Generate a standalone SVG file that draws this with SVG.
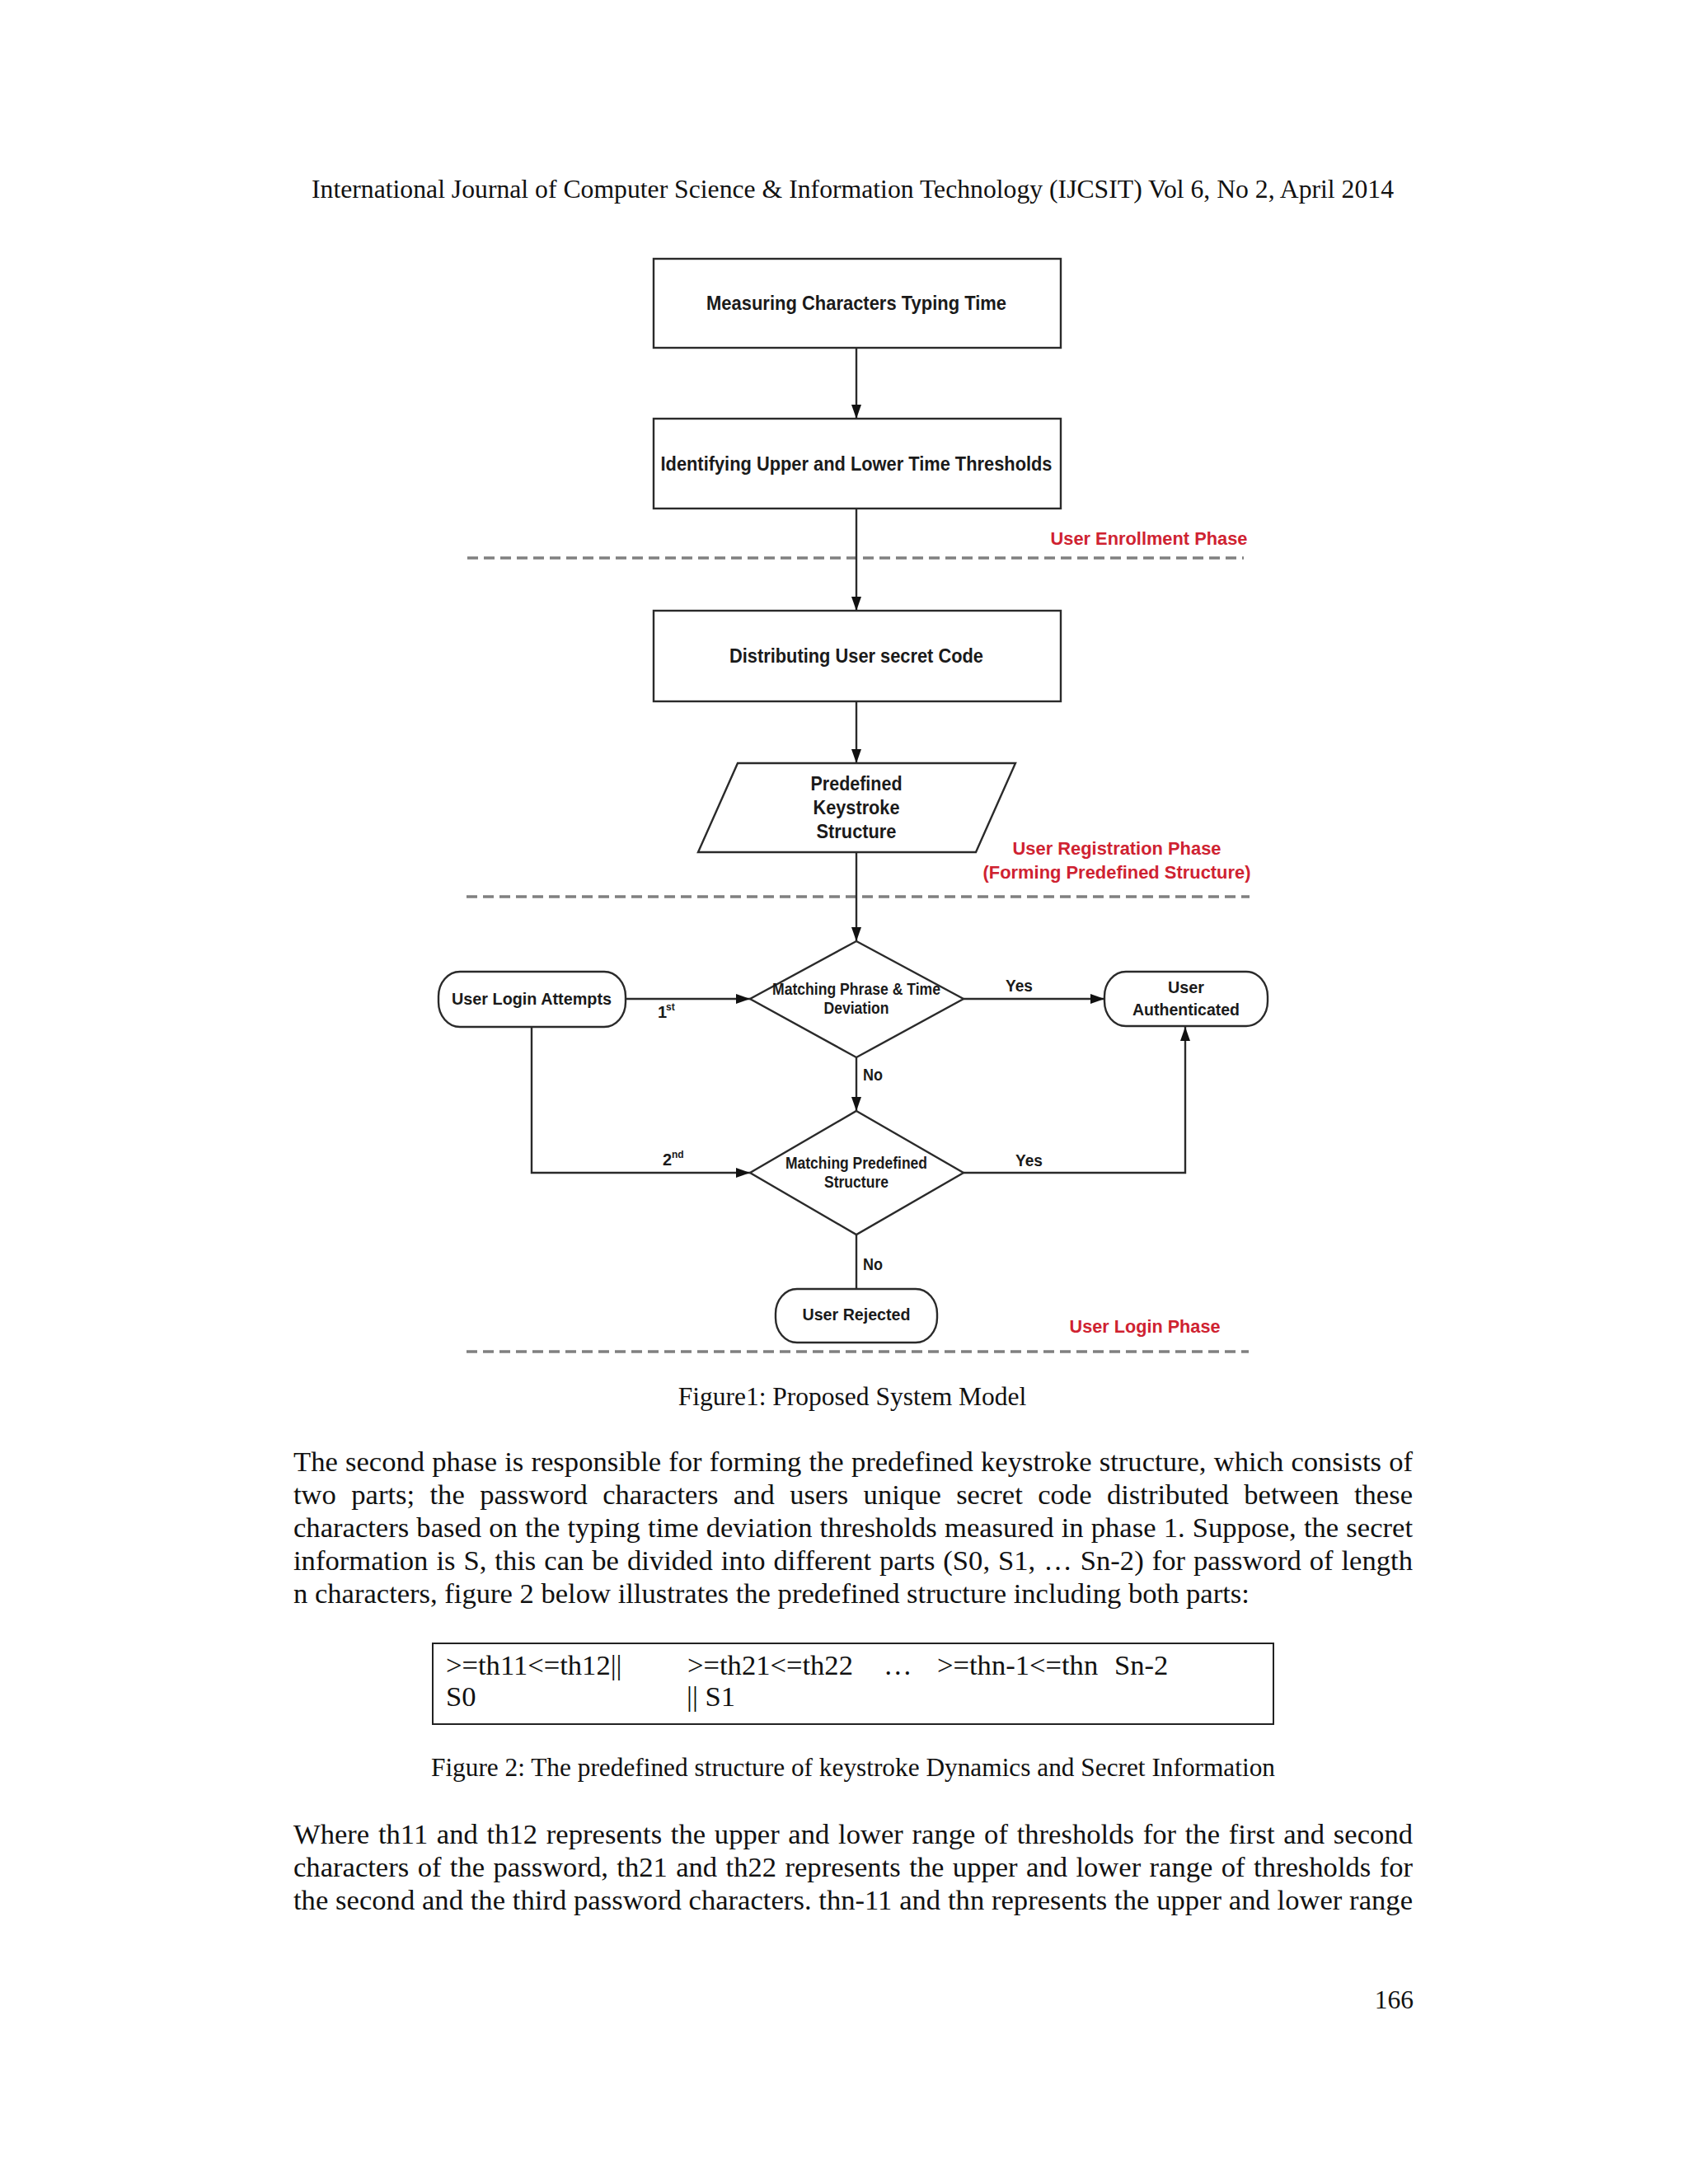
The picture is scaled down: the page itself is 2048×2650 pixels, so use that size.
<svg xmlns="http://www.w3.org/2000/svg" width="2048" height="2650" viewBox="0 0 2048 2650">
<style>
.node{fill:#fff;stroke:#2a2a2a;stroke-width:2.4}
.lbl{font-family:"Liberation Sans",Arial,sans-serif;font-weight:bold;fill:#1a1a1a;text-anchor:middle}
.box{font-size:24px}
.dia{font-size:19.5px}
.term{font-size:21px}
.yn{font-size:19.5px;text-anchor:start}
.phase{font-family:"Liberation Sans",Arial,sans-serif;font-weight:bold;font-size:22.5px;fill:#cf2231;text-anchor:middle}
.dash{stroke:#808080;stroke-width:3.3;stroke-dasharray:13 7;fill:none}
.conn{stroke:#2a2a2a;stroke-width:2.4;fill:none}
.serif{font-family:"Liberation Serif","Times New Roman",serif;fill:#111}
.body{font-size:34.6px}
.small{font-size:31.5px}
</style>
<defs>
<marker id="arr" markerUnits="userSpaceOnUse" markerWidth="17" markerHeight="12" refX="17" refY="6" orient="auto">
<path d="M0,0 L17,6 L0,12 z" fill="#111"/>
</marker>
</defs>
<rect x="0" y="0" width="2048" height="2650" fill="#fff"/>

<text class="serif small" x="378" y="240" textLength="1313" lengthAdjust="spacingAndGlyphs">International Journal of Computer Science &amp; Information Technology (IJCSIT) Vol 6, No 2, April 2014</text>

<g id="phase-lines">
<line class="dash" x1="567" y1="677" x2="1509" y2="677"/>
<line class="dash" x1="566" y1="1088" x2="1516" y2="1088"/>
<line class="dash" x1="566" y1="1640" x2="1515" y2="1640"/>
</g>

<g id="connectors">
<line class="conn" x1="1039" y1="422" x2="1039" y2="508" marker-end="url(#arr)"/>
<line class="conn" x1="1039" y1="617" x2="1039" y2="741" marker-end="url(#arr)"/>
<line class="conn" x1="1039" y1="851" x2="1039" y2="926" marker-end="url(#arr)"/>
<line class="conn" x1="1039" y1="1034" x2="1039" y2="1142" marker-end="url(#arr)"/>
<line class="conn" x1="759" y1="1212" x2="910" y2="1212" marker-end="url(#arr)"/>
<line class="conn" x1="1169" y1="1212" x2="1340" y2="1212" marker-end="url(#arr)"/>
<line class="conn" x1="1039" y1="1283" x2="1039" y2="1348" marker-end="url(#arr)"/>
<polyline class="conn" points="645,1246 645,1423 910,1423" marker-end="url(#arr)"/>
<polyline class="conn" points="1169,1423 1438,1423 1438,1246" marker-end="url(#arr)"/>
<line class="conn" x1="1039" y1="1498" x2="1039" y2="1564"/>
<text class="lbl" x="798" y="1235" style="font-size:20px;text-anchor:start">1</text>
<text class="lbl" x="808" y="1226" style="font-size:12px;text-anchor:start">st</text>
<text class="lbl" x="804" y="1414" style="font-size:20px;text-anchor:start">2</text>
<text class="lbl" x="815" y="1405" style="font-size:12px;text-anchor:start">nd</text>
<text class="lbl yn" x="1220" y="1203" textLength="33" lengthAdjust="spacingAndGlyphs">Yes</text>
<text class="lbl yn" x="1232" y="1415" textLength="33" lengthAdjust="spacingAndGlyphs">Yes</text>
<text class="lbl yn" x="1047" y="1311" textLength="24" lengthAdjust="spacingAndGlyphs">No</text>
<text class="lbl yn" x="1047" y="1541" textLength="24" lengthAdjust="spacingAndGlyphs">No</text>
</g>

<g id="measuring">
<rect class="node" x="793" y="314" width="494" height="108"/>
<text class="lbl box" x="1039" y="376" textLength="364" lengthAdjust="spacingAndGlyphs">Measuring Characters Typing Time</text>
</g>

<g id="identifying">
<rect class="node" x="793" y="508" width="494" height="109"/>
<text class="lbl box" x="1039" y="571" textLength="475" lengthAdjust="spacingAndGlyphs">Identifying Upper and Lower Time Thresholds</text>
</g>

<g id="enrollment-label">
<text class="phase" x="1394" y="661" textLength="239" lengthAdjust="spacingAndGlyphs">User Enrollment Phase</text>
</g>

<g id="distributing">
<rect class="node" x="793" y="741" width="494" height="110"/>
<text class="lbl box" x="1039" y="804" textLength="308" lengthAdjust="spacingAndGlyphs">Distributing User secret Code</text>
</g>

<g id="predefined">
<polygon class="node" points="895,926 1232,926 1184,1034 847,1034"/>
<text class="lbl box" x="1039" y="959" textLength="111" lengthAdjust="spacingAndGlyphs">Predefined</text>
<text class="lbl box" x="1039" y="988" textLength="105" lengthAdjust="spacingAndGlyphs">Keystroke</text>
<text class="lbl box" x="1039" y="1017" textLength="97" lengthAdjust="spacingAndGlyphs">Structure</text>
</g>

<g id="registration-label">
<text class="phase" x="1355" y="1037" textLength="253" lengthAdjust="spacingAndGlyphs">User Registration Phase</text>
<text class="phase" x="1355" y="1066" textLength="325" lengthAdjust="spacingAndGlyphs">(Forming Predefined Structure)</text>
</g>

<g id="login-attempts">
<rect class="node" x="532" y="1179" width="227" height="67" rx="26" ry="30"/>
<text class="lbl term" x="645" y="1219" textLength="194" lengthAdjust="spacingAndGlyphs">User Login Attempts</text>
</g>

<g id="matching-phrase">
<polygon class="node" points="1039,1142 1169,1212 1039,1283 910,1212"/>
<text class="lbl dia" x="1039" y="1207" textLength="204" lengthAdjust="spacingAndGlyphs">Matching Phrase &amp; Time</text>
<text class="lbl dia" x="1039" y="1230" textLength="79" lengthAdjust="spacingAndGlyphs">Deviation</text>
</g>

<g id="authenticated">
<rect class="node" x="1340" y="1179" width="198" height="66" rx="26" ry="30"/>
<text class="lbl term" x="1439" y="1205" textLength="44" lengthAdjust="spacingAndGlyphs">User</text>
<text class="lbl term" x="1439" y="1232" textLength="130" lengthAdjust="spacingAndGlyphs">Authenticated</text>
</g>

<g id="matching-structure">
<polygon class="node" points="1039,1348 1169,1423 1039,1498 910,1423"/>
<text class="lbl dia" x="1039" y="1418" textLength="172" lengthAdjust="spacingAndGlyphs">Matching Predefined</text>
<text class="lbl dia" x="1039" y="1441" textLength="78" lengthAdjust="spacingAndGlyphs">Structure</text>
</g>

<g id="rejected">
<rect class="node" x="941" y="1564" width="196" height="65" rx="26" ry="30"/>
<text class="lbl term" x="1039" y="1602" textLength="131" lengthAdjust="spacingAndGlyphs">User Rejected</text>
</g>

<g id="login-label">
<text class="phase" x="1389" y="1617" textLength="183" lengthAdjust="spacingAndGlyphs">User Login Phase</text>
</g>

<text class="serif small" x="1034" y="1705" text-anchor="middle">Figure1: Proposed System Model</text>

<g id="paragraph1" class="serif body">
<text x="356" y="1785" word-spacing="0.5" textLength="1358" lengthAdjust="spacing">The second phase is responsible for forming the predefined keystroke structure, which consists of</text>
<text x="356" y="1825" word-spacing="9.7" textLength="1358" lengthAdjust="spacing">two parts; the password characters and users unique secret code distributed between these</text>
<text x="356" y="1865" word-spacing="0.5" textLength="1358" lengthAdjust="spacing">characters based on the typing time deviation thresholds measured in phase 1. Suppose, the secret</text>
<text x="356" y="1905" word-spacing="1.3" textLength="1358" lengthAdjust="spacing">information is S, this can be divided into different parts (S0, S1, … Sn-2) for password of length</text>
<text x="356" y="1945">n characters, figure 2 below illustrates the predefined structure including both parts:</text>
</g>

<g id="figure2">
<rect x="525" y="1994" width="1020" height="98" fill="#fff" stroke="#222" stroke-width="2"/>
<g class="serif body">
<text x="541" y="2032">&gt;=th11&lt;=th12||</text>
<text x="834" y="2032">&gt;=th21&lt;=th22</text>
<text x="1072" y="2032">…</text>
<text x="1137" y="2032">&gt;=thn-1&lt;=thn</text>
<text x="1352" y="2032">Sn-2</text>
<text x="541" y="2070">S0</text>
<text x="833" y="2070">|| S1</text>
</g>
</g>

<text class="serif small" x="523" y="2155" textLength="1024" lengthAdjust="spacingAndGlyphs">Figure 2: The predefined structure of keystroke Dynamics and Secret Information</text>

<g id="paragraph2" class="serif body">
<text x="356" y="2237" word-spacing="2" textLength="1358" lengthAdjust="spacing">Where th11 and th12 represents the upper and lower range of thresholds for the first and second</text>
<text x="356" y="2277" word-spacing="1.75" textLength="1358" lengthAdjust="spacing">characters of the password, th21 and th22 represents the upper and lower range of thresholds for</text>
<text x="356" y="2317" word-spacing="0.1" textLength="1358" lengthAdjust="spacing">the second and the third password characters. thn-11 and thn represents the upper and lower range</text>
</g>

<text class="serif small" x="1715" y="2437" text-anchor="end">166</text>
</svg>
